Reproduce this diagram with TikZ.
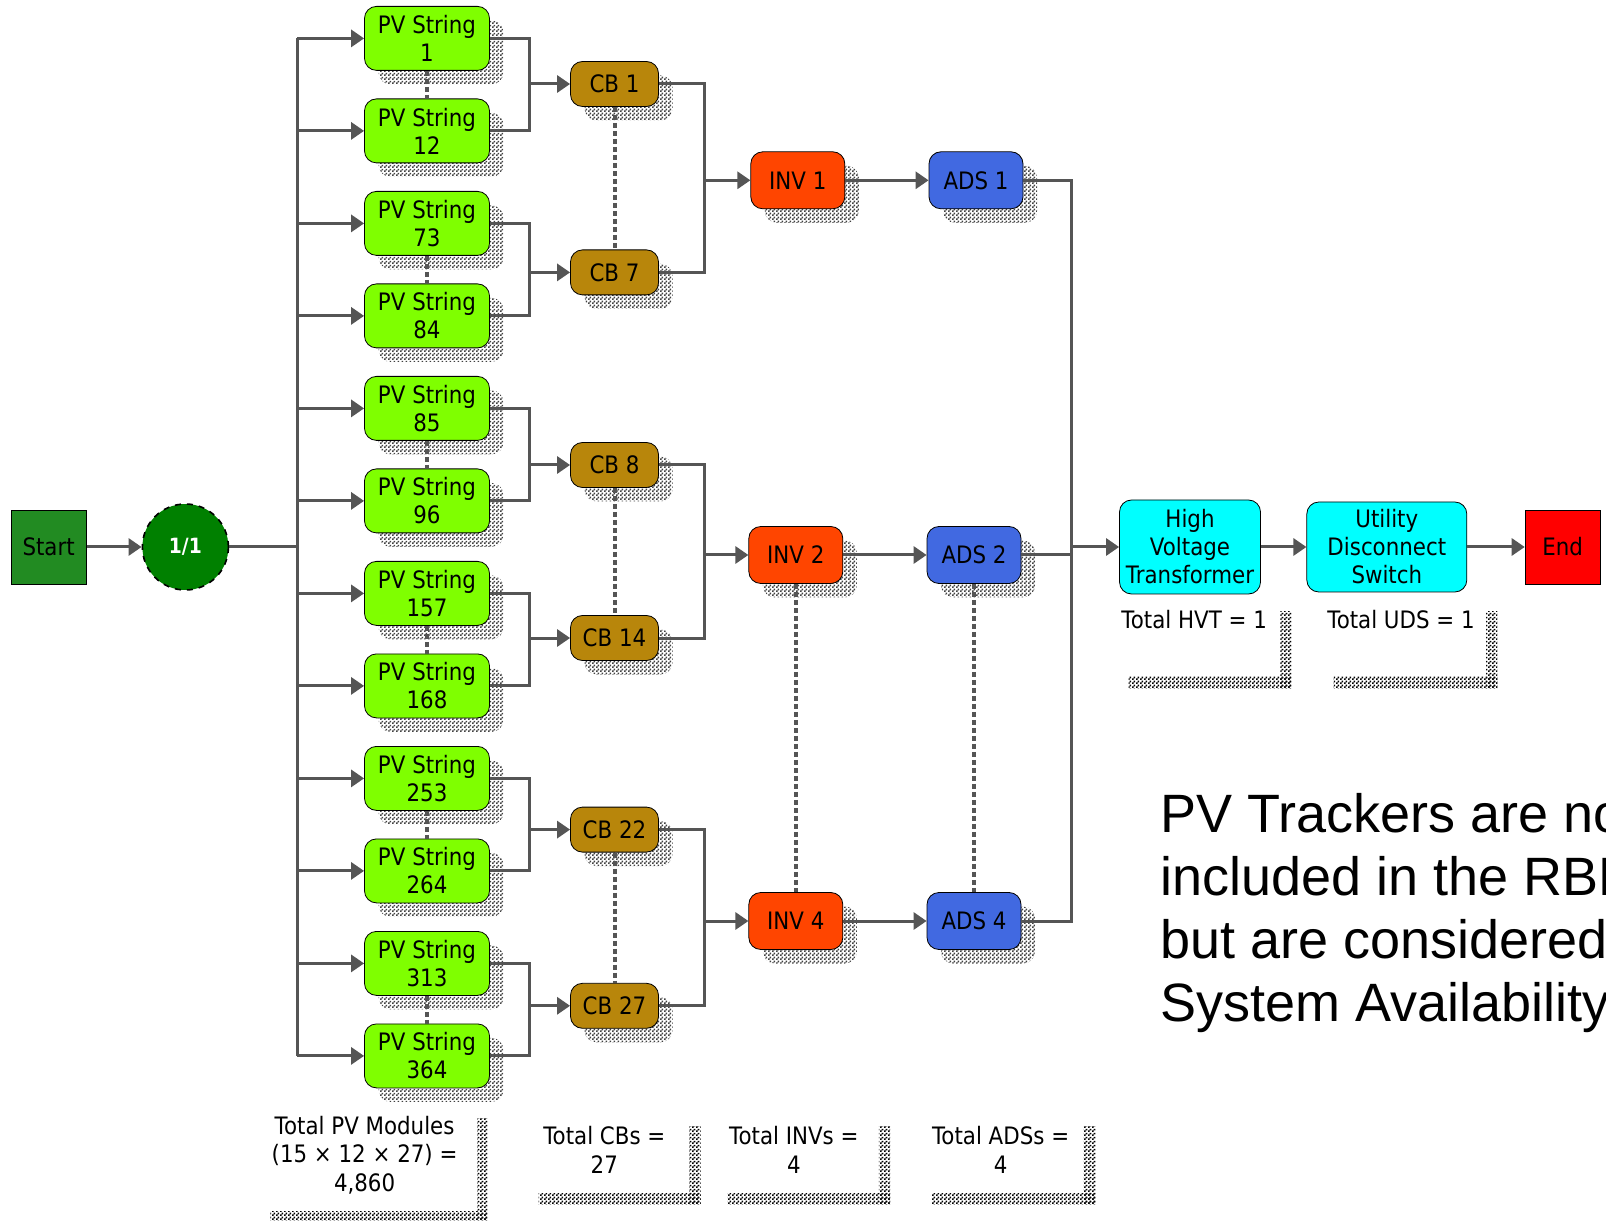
\documentclass[tikz,border=0pt]{standalone}
\usepackage{fontspec}
\setmainfont{DejaVu Sans}[FakeStretch=0.89]
\newfontfamily\notefont{Liberation Sans}
\usetikzlibrary{arrows.meta, shadows, patterns.meta}

\definecolor{pvgreen}{HTML}{7FFF00}
\definecolor{cbgold}{HTML}{B8860B}
\definecolor{invred}{HTML}{FF4500}
\definecolor{adsblue}{HTML}{4169E1}
\definecolor{hvcyan}{HTML}{00FFFF}
\definecolor{startgreen}{HTML}{228B22}
\definecolor{gategreen}{HTML}{008000}
\definecolor{linegray}{HTML}{555555}

\tikzdeclarepattern{
  name=checker,
  bounding box={(0pt,0pt) and (2pt,2pt)},
  tile size={(2pt,2pt)},
  code={
    \pgfpathrectangle{\pgfpointorigin}{\pgfpoint{1pt}{1pt}}
    \pgfpathrectangle{\pgfpoint{1pt}{1pt}}{\pgfpoint{1pt}{1pt}}
    \pgfusepath{fill}
  }
}

\tikzset{
  blk/.style={draw=black, thin, rounded corners=6pt, align=center, inner sep=1pt,
    font=\fontsize{12}{14}\selectfont},
  shd/.style={blk, drop shadow={shadow xshift=7pt, shadow yshift=-7pt, opacity=1, pattern=checker, pattern color=black!75}},
  pvbox/.style={shd, fill=pvgreen, minimum width=62.5pt, minimum height=32pt},
  cbbox/.style={shd, fill=cbgold, minimum width=44pt, minimum height=22.5pt},
  invbox/.style={shd, fill=invred, minimum width=47pt, minimum height=28.5pt},
  adsbox/.style={shd, fill=adsblue, minimum width=47pt, minimum height=28.5pt},
  hvbox/.style={blk, fill=hvcyan},
  endbox/.style={draw=black, thin, minimum width=37.5pt, minimum height=37pt, inner sep=0pt,
    font=\fontsize{12}{14}\selectfont},
  gate/.style={circle, draw=black, dashed, line width=0.8pt, fill=gategreen, minimum size=43pt,
    text=white, font=\bfseries\fontsize{10.5}{12}\selectfont},
  note/.style={align=center, inner sep=0pt, font=\fontsize{12}{14.3}\selectfont},
  lshade/.style={pattern=checker, pattern color=black},
  line/.style={draw=linegray, line width=1.5pt},
  arr/.style={line, -{Triangle[length=6.5pt,width=8.5pt]}},
  dots/.style={draw=linegray, line width=2pt, dash pattern=on 2.5pt off 1.5pt}
}

\begin{document}
\begin{tikzpicture}[x=0.5pt, y=-0.5pt]
\useasboundingbox (0,0) rectangle (1606,1224);

\node[endbox, fill=startgreen] (start) at (48.6,547) {Start};
\node[gate] (gate) at (185.4,547) {1/1};

% strings
\node[pvbox] (pv1) at (427,38.4) {PV String\\1};
\node[pvbox] (pv12) at (427,130.9) {PV String\\12};
\node[pvbox] (pv73) at (427,223.4) {PV String\\73};
\node[pvbox] (pv84) at (427,315.9) {PV String\\84};
\node[pvbox] (pv85) at (427,408.4) {PV String\\85};
\node[pvbox] (pv96) at (427,500.9) {PV String\\96};
\node[pvbox] (pv157) at (427,593.4) {PV String\\157};
\node[pvbox] (pv168) at (427,685.9) {PV String\\168};
\node[pvbox] (pv253) at (427,778.4) {PV String\\253};
\node[pvbox] (pv264) at (427,870.9) {PV String\\264};
\node[pvbox] (pv313) at (427,963.4) {PV String\\313};
\node[pvbox] (pv364) at (427,1055.9) {PV String\\364};

% combiner boxes
\node[cbbox] (cb1) at (614.5,84) {CB 1};
\node[cbbox] (cb7) at (614.5,272.4) {CB 7};
\node[cbbox] (cb8) at (614.5,465) {CB 8};
\node[cbbox] (cb14) at (614.5,638) {CB 14};
\node[cbbox] (cb22) at (614.5,829.6) {CB 22};
\node[cbbox] (cb27) at (614.5,1005.8) {CB 27};

\node[invbox] (inv1) at (797.8,180.3) {INV 1};
\node[invbox] (inv2) at (795.8,555) {INV 2};
\node[invbox] (inv4) at (795.8,921) {INV 4};
\node[adsbox] (ads1) at (976,180.3) {ADS 1};
\node[adsbox] (ads2) at (974,555) {ADS 2};
\node[adsbox] (ads4) at (974,921) {ADS 4};

\node[hvbox, minimum width=70.5pt, minimum height=47pt] (hvt) at (1190,547) {High\\Voltage\\Transformer};
\node[hvbox, minimum width=80pt, minimum height=45pt] (uds) at (1386.8,547) {Utility\\Disconnect\\Switch};
\node[endbox, fill=red] (end) at (1562.6,547) {End};

\coordinate (busl) at (297,0);
\coordinate (cbj) at (529.5,0);
\coordinate (invj) at (704,0);
\coordinate (adsj) at (1071,0);

% connectors
\draw[arr] (start) -- (gate);
\draw[line] (gate.east) -- (gate.east -| busl);
\draw[line] (pv1.west -| busl) -- (pv364.west -| busl);
\draw[arr] (pv1.west -| busl) -- (pv1.west);
\draw[arr] (pv12.west -| busl) -- (pv12.west);
\draw[arr] (pv73.west -| busl) -- (pv73.west);
\draw[arr] (pv84.west -| busl) -- (pv84.west);
\draw[arr] (pv85.west -| busl) -- (pv85.west);
\draw[arr] (pv96.west -| busl) -- (pv96.west);
\draw[arr] (pv157.west -| busl) -- (pv157.west);
\draw[arr] (pv168.west -| busl) -- (pv168.west);
\draw[arr] (pv253.west -| busl) -- (pv253.west);
\draw[arr] (pv264.west -| busl) -- (pv264.west);
\draw[arr] (pv313.west -| busl) -- (pv313.west);
\draw[arr] (pv364.west -| busl) -- (pv364.west);

\draw[line] (pv1.east) -| (cbj |- cb1) |- (pv12.east);
\draw[arr] (cbj |- cb1) -- (cb1.west);
\draw[line] (pv73.east) -| (cbj |- cb7) |- (pv84.east);
\draw[arr] (cbj |- cb7) -- (cb7.west);
\draw[line] (pv85.east) -| (cbj |- cb8) |- (pv96.east);
\draw[arr] (cbj |- cb8) -- (cb8.west);
\draw[line] (pv157.east) -| (cbj |- cb14) |- (pv168.east);
\draw[arr] (cbj |- cb14) -- (cb14.west);
\draw[line] (pv253.east) -| (cbj |- cb22) |- (pv264.east);
\draw[arr] (cbj |- cb22) -- (cb22.west);
\draw[line] (pv313.east) -| (cbj |- cb27) |- (pv364.east);
\draw[arr] (cbj |- cb27) -- (cb27.west);

\draw[line] (cb1.east) -| (invj |- inv1) |- (cb7.east);
\draw[arr] (invj |- inv1) -- (inv1.west);
\draw[line] (cb8.east) -| (invj |- inv2) |- (cb14.east);
\draw[arr] (invj |- inv2) -- (inv2.west);
\draw[line] (cb22.east) -| (invj |- inv4) |- (cb27.east);
\draw[arr] (invj |- inv4) -- (inv4.west);

\draw[arr] (inv1) -- (ads1);
\draw[arr] (inv2) -- (ads2);
\draw[arr] (inv4) -- (ads4);

\draw[line] (ads1.east) -| (adsj |- hvt) |- (ads4.east);
\draw[line] (ads2.east) -- (ads2.east -| adsj);
\draw[arr] (adsj |- hvt) -- (hvt.west);
\draw[arr] (hvt) -- (uds);
\draw[arr] (uds) -- (end);

% dotted links
\draw[dots] (pv1.south) -- (pv12.north);
\draw[dots] (pv73.south) -- (pv84.north);
\draw[dots] (pv85.south) -- (pv96.north);
\draw[dots] (pv157.south) -- (pv168.north);
\draw[dots] (pv253.south) -- (pv264.north);
\draw[dots] (pv313.south) -- (pv364.north);
\draw[dots] (cb1.south) -- (cb7.north);
\draw[dots] (cb8.south) -- (cb14.north);
\draw[dots] (cb22.south) -- (cb27.north);
\draw[dots] (inv2.south) -- (inv4.north);
\draw[dots] (ads2.south) -- (ads4.north);

% totals
\node[note] (pvtot) at (364.6,1155) {Total PV Modules\\(15 × 12 × 27) =\\4,860};
\node[note] (cbtot) at (604.3,1150) {Total CBs =\\27};
\node[note] (invtot) at (793.8,1150) {Total INVs =\\4};
\node[note] (adstot) at (1000.6,1150) {Total ADSs =\\4};
\node[note] (hvttot) at (1194.2,619.6) {Total HVT = 1};
\node[note] (udstot) at (1401,619.6) {Total UDS = 1};

\fill[lshade] (477.3,1118.4) rectangle (487.5,1220.8);
\fill[lshade] (270.4,1211.6) rectangle (487.5,1220.8);
\fill[lshade] (689.3,1126.6) rectangle (700.6,1204.5);
\fill[lshade] (538.7,1193.2) rectangle (700.6,1204.5);
\fill[lshade] (878.8,1126.6) rectangle (890,1204.5);
\fill[lshade] (727.2,1193.2) rectangle (890,1204.5);
\fill[lshade] (1083.6,1126.6) rectangle (1095.9,1204.5);
\fill[lshade] (932,1193.2) rectangle (1095.9,1204.5);
\fill[lshade] (1280.3,611.4) rectangle (1291.5,688.3);
\fill[lshade] (1128.7,676) rectangle (1291.5,688.3);
\fill[lshade] (1486.1,611.4) rectangle (1497.4,688.3);
\fill[lshade] (1333.5,676) rectangle (1497.4,688.3);

\begin{scope}
\clip (0,0) rectangle (1606,1224);
\node[anchor=base west, align=left, inner sep=0pt, font=\notefont\fontsize{27}{31.5}\selectfont] (trk) at (1160,1021.5) {PV Trackers are not\\included in the RBD\\but are considered\\System Availability};
\end{scope}
\end{tikzpicture}
\end{document}
